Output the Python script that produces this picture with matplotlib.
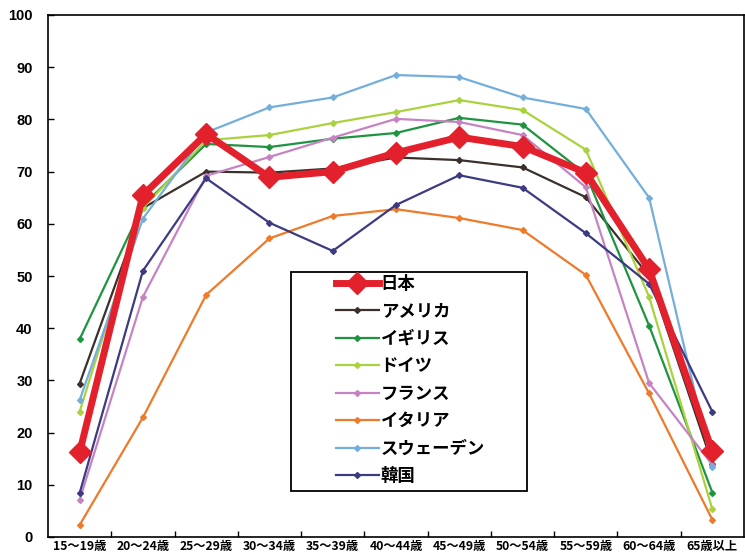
import matplotlib
matplotlib.use("Agg")
import matplotlib.pyplot as plt
from matplotlib.patches import Rectangle

plt.rcParams["font.family"] = ["Noto Sans CJK JP", "DejaVu Sans"]

# 年齢階級
ages = ["15～19歳", "20～24歳", "25～29歳", "30～34歳", "35～39歳", "40～44歳",
        "45～49歳", "50～54歳", "55～59歳", "60～64歳", "65歳以上"]

# 女性の労働力率（%）
japan = [16.2, 65.5, 77.2, 68.9, 70.0, 73.6, 76.6, 74.8, 69.8, 51.3, 16.4]
usa = [29.4, 63.0, 70.0, 69.8, 70.6, 72.7, 72.2, 70.8, 65.1, 50.0, 14.0]
uk = [37.9, 63.5, 75.3, 74.7, 76.3, 77.4, 80.3, 79.0, 69.5, 40.5, 8.5]
germany = [24.0, 63.0, 76.0, 77.0, 79.3, 81.4, 83.7, 81.8, 74.2, 46.0, 5.3]
france = [7.1, 46.0, 69.2, 72.8, 76.5, 80.1, 79.5, 77.0, 67.0, 29.5, 13.8]
italy = [2.3, 22.9, 46.4, 57.2, 61.5, 62.8, 61.1, 58.8, 50.2, 27.5, 3.3]
sweden = [26.2, 61.0, 77.5, 82.3, 84.2, 88.5, 88.1, 84.2, 82.0, 65.0, 13.5]
korea = [8.4, 51.0, 68.7, 60.2, 54.8, 63.6, 69.3, 66.9, 58.2, 48.5, 24.0]

countries = ["日本", "アメリカ", "イギリス", "ドイツ", "フランス", "イタリア", "スウェーデン", "韓国"]
series = [japan, usa, uk, germany, france, italy, sweden, korea]
colors = ["#e3212d", "#3b302b", "#1f9440", "#a9d23e", "#c683c3", "#ee7a2a", "#74aedb", "#3c3b82"]

W, H = 745, 554
fig = plt.figure(figsize=(W / 100, H / 100), dpi=100)
ax = fig.add_axes([48 / W, 17 / H, 696 / W, 522 / H])

x = list(range(len(ages)))
handles = []
for name, vals, col in zip(countries, series, colors):
    if name == "日本":
        h, = ax.plot(x, vals, color=col, lw=5.0, marker="D", ms=11.5,
                     mec=col, mfc=col, zorder=5, label=name)
    else:
        h, = ax.plot(x, vals, color=col, lw=1.6, marker="D", ms=3,
                     mec=col, mfc=col, zorder=3, label=name)
    handles.append(h)

ax.set_xlim(-0.5, len(ages) - 0.5)
ax.set_ylim(0, 100)
ax.set_yticks(range(0, 101, 10))
ax.set_yticklabels([str(v) for v in range(0, 101, 10)],
                   family="Liberation Sans", fontsize=10.5, fontweight="bold")

# 目盛線は階級の境目、ラベルは各階級の中央
ax.set_xticks([i + 0.5 for i in x[:-1]])
ax.set_xticklabels([])
ax.set_xticks(x, minor=True)
ax.set_xticklabels(ages, minor=True, fontsize=8.8, fontweight="bold")
ax.tick_params(axis="x", which="minor", length=0, pad=2)
ax.tick_params(axis="x", which="major", direction="in", length=4, width=1)
ax.tick_params(axis="y", direction="in", length=4, width=1, pad=11)

for s in ax.spines.values():
    s.set_linewidth(1.2)
    s.set_color("black")

# 凡例の枠（左右に余白の多い白い箱）
box = Rectangle((291 / W, 1 - 491 / H), 236 / W, 219 / H,
                transform=fig.transFigure, facecolor="white",
                edgecolor="black", lw=1.3, zorder=6, clip_on=False)
ax.add_patch(box)

leg = ax.legend(handles=handles, loc="upper left",
                bbox_to_anchor=(333 / W, 1 - 272 / H),
                bbox_transform=fig.transFigure, frameon=False,
                fontsize=12.5, handlelength=2.5, handletextpad=0.1,
                labelspacing=0.55, borderpad=0.15, borderaxespad=0)
leg.set_zorder(7)
for t in leg.get_texts():
    t.set_fontweight("bold")

fig.savefig("out.png", dpi=100)
